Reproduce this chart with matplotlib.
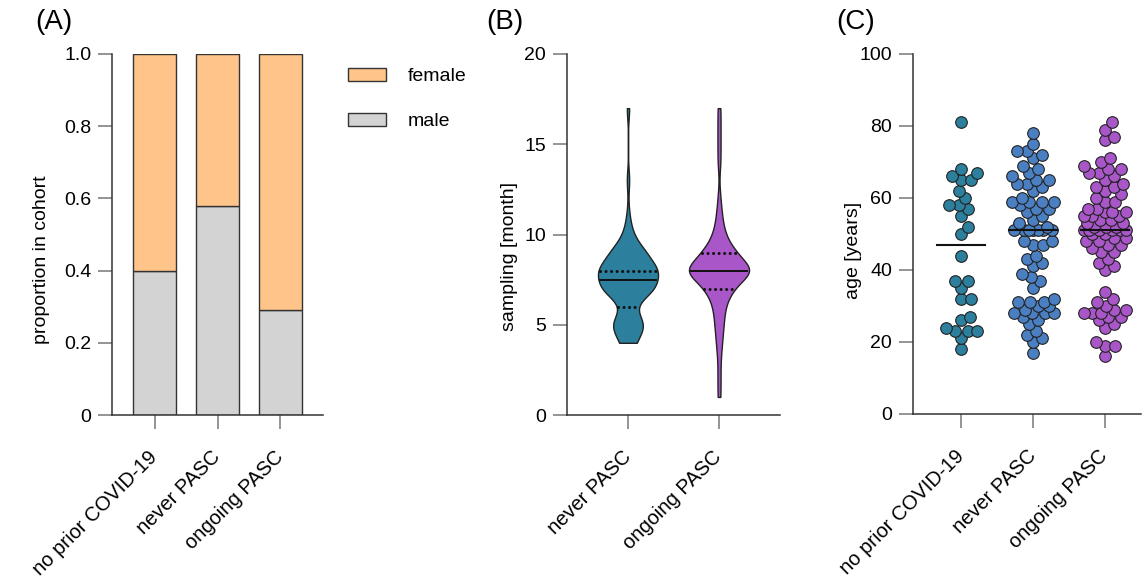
import numpy as np
import matplotlib
matplotlib.use('Agg')
import matplotlib.pyplot as plt

plt.rcParams['font.family'] = ['Liberation Sans', 'DejaVu Sans']

# (A) sex proportions per cohort
groups_a = ['no prior COVID-19', 'never PASC', 'ongoing PASC']
male_prop = [0.40, 0.58, 0.29]
female_prop = [1 - m for m in male_prop]

# (B) sampling time in months (value, how many)
groups_b = ['never PASC', 'ongoing PASC']
never_months = [4, 5, 6, 7, 8, 9, 10, 11, 13, 17]
never_counts = [5, 11, 3, 17, 19, 11, 3, 1, 1, 1]
ongoing_months = [1, 2, 3, 4, 5, 6, 7, 8, 9, 10, 11, 12, 14, 15, 16, 17]
ongoing_counts = [1, 1, 1, 2, 3, 4, 9, 24, 11, 4, 2, 1, 1, 1, 1, 1]

# (C) age per cohort
age_no_prior = [81, 68, 67, 66, 65, 65, 62, 60, 58, 58, 57, 55, 52, 50, 44, 37, 37,
                35, 32, 32, 27, 26, 24, 23, 23, 23, 21, 18]
age_never = [78, 75, 73, 73, 72, 71, 69, 68, 67, 66, 65, 65, 64, 64, 63, 62, 60, 59,
             59, 59, 59, 58, 57, 57, 56, 55, 54, 53, 52, 51, 51, 51, 51, 51, 51, 51,
             48, 48, 47, 47, 44, 43, 42, 41, 39, 38, 37, 35, 32, 31, 31, 31, 30, 30,
             29, 28, 28, 28, 28, 27, 26, 25, 23, 22, 21, 20, 17]
age_ongoing = [81, 79, 77, 76, 71, 70, 69, 68, 68, 67, 67, 66, 65, 64, 63, 63, 62, 61,
               60, 59, 59, 57, 57, 56, 56, 56, 55, 55, 55, 54, 54, 53, 53, 52, 52, 52,
               51, 51, 51, 51, 51, 51, 50, 50, 49, 49, 48, 48, 47, 47, 46, 45, 45, 43,
               42, 41, 40, 34, 32, 31, 30, 29, 29, 28, 28, 28, 27, 27, 26, 25, 24, 20,
               19, 19, 16]

c_female = '#FFC48A'
c_male = '#D3D3D3'
c_teal = '#2C7F9D'
c_blue = '#4A7FC2'
c_purple = '#A856C8'
edge = '#222222'

W, H = 1144, 585
fig = plt.figure(figsize=(W / 100, H / 100), dpi=100)


def add_ax(left, right, top, bottom):
    return fig.add_axes([left / W, 1 - bottom / H, (right - left) / W, (bottom - top) / H])


def style(ax):
    for s in ['top', 'right']:
        ax.spines[s].set_visible(False)
    for s in ['left', 'bottom']:
        ax.spines[s].set_color('#333333')
        ax.spines[s].set_linewidth(1.1)
    ax.tick_params(axis='both', direction='out', length=10, width=1.1, color='#777777',
                   labelsize=14)
    ax.tick_params(axis='y', pad=5)
    ax.tick_params(axis='x', pad=18, labelsize=14.5)


def cat_labels(ax, labels):
    ax.set_xticks(range(1, len(labels) + 1))
    ax.set_xticklabels(labels, rotation=45, ha='right', va='center', rotation_mode='anchor')


# ---- (A)
axA = add_ax(112, 323, 54, 415)
xa = np.arange(1, 4)
bm = axA.bar(xa, male_prop, width=0.68, color=c_male, edgecolor='#333333', linewidth=1)
bf = axA.bar(xa, female_prop, bottom=male_prop, width=0.68, color=c_female,
             edgecolor='#333333', linewidth=1)
axA.set_xlim(0.325, 3.675)
axA.set_ylim(0, 1)
axA.set_yticks([0, 0.2, 0.4, 0.6, 0.8, 1.0])
axA.set_yticklabels(['0', '0.2', '0.4', '0.6', '0.8', '1.0'])
axA.set_ylabel('proportion in cohort', fontsize=14)
axA.yaxis.set_label_coords(-0.294, 0.43)
style(axA)
cat_labels(axA, groups_a)
axA.legend([bf, bm], ['female', 'male'], loc='upper left', frameon=False,
           bbox_to_anchor=(348 / W, 1 - 68 / H), bbox_transform=fig.transFigure,
           borderpad=0, borderaxespad=0, handlelength=1.95, handleheight=0.62,
           handletextpad=1.1, labelspacing=1.45, fontsize=14)

# ---- (B)
axB = add_ax(567, 780, 54, 415)
samp_never = np.repeat(never_months, never_counts)
samp_ongoing = np.repeat(ongoing_months, ongoing_counts)
datasets = [samp_never, samp_ongoing]
vcolors = [c_teal, c_purple]
dots = (0, (0.01, 1.8))
for i, d in enumerate(datasets):
    pos = i + 1
    parts = axB.violinplot([d], positions=[pos], widths=0.66, showextrema=False,
                           points=400, bw_method=0.6 / np.std(d, ddof=1))
    body = parts['bodies'][0]
    body.set_facecolor(vcolors[i])
    body.set_edgecolor(edge)
    body.set_linewidth(1)
    body.set_alpha(1)
    verts = body.get_paths()[0].vertices
    right = verts[verts[:, 0] > pos]
    order = np.argsort(right[:, 1])
    q1, med, q3 = np.percentile(d, [25, 50, 75], method='weibull')
    for q, ls, lw in [(q1, dots, 2.2), (med, '-', 1.4), (q3, dots, 2.2)]:
        hw = np.interp(q, right[order, 1], right[order, 0] - pos) - 0.02
        axB.plot([pos - hw, pos + hw], [q, q], color='#111111', lw=lw, ls=ls,
                 dash_capstyle='round', zorder=3)
axB.set_xlim(0.33, 2.67)
axB.set_ylim(0, 20)
axB.set_yticks([0, 5, 10, 15, 20])
axB.set_ylabel('sampling [month]', fontsize=14)
axB.yaxis.set_label_coords(-0.23, 0.44)
style(axB)
cat_labels(axB, groups_b)

# ---- (C)
axC = add_ax(913, 1141, 54, 414)
px_x, px_y = 72.0, 3.6   # pixels per x unit / per year


def swarm(vals, min_d=9.5, max_off=21):
    steps = np.arange(0.5, max_off + 0.01, 0.5)
    cand = np.concatenate([[0.0], np.ravel(np.column_stack([steps, -steps]))])
    vals = np.sort(np.asarray(vals, float))
    xs, ys = [], []
    for v in vals:
        y = v * px_y
        if xs:
            ax_ = np.array(xs)
            ay_ = np.array(ys)
            dist = np.array([np.min(np.hypot(c - ax_, y - ay_)) for c in cand])
            ok = np.nonzero(dist >= min_d)[0]
            c = cand[ok[0]] if len(ok) else cand[np.argmax(dist)]
        else:
            c = 0.0
        xs.append(c)
        ys.append(y)
    return np.array(xs) / px_x, vals


ages = [age_no_prior, age_never, age_ongoing]
scol = [c_teal, c_blue, c_purple]
for i, a in enumerate(ages):
    offs, vals = swarm(a)
    axC.scatter(i + 1 + offs, vals, s=70, color=scol[i], edgecolor=edge, linewidth=0.8,
                zorder=2, clip_on=False)
    m = np.median(a)
    axC.plot([i + 1 - 0.33, i + 1 + 0.33], [m, m], color='#111111', lw=1.5, zorder=4)
axC.set_xlim(0.33, 3.5)
axC.set_ylim(0, 100)
axC.set_yticks([0, 20, 40, 60, 80, 100])
axC.set_ylabel('age [years]', fontsize=14)
axC.yaxis.set_label_coords(-0.224, 0.455)
style(axC)
cat_labels(axC, groups_a)

for x, t in [(35, '(A)'), (486, '(B)'), (836, '(C)')]:
    fig.text(x / W, 1 - 22 / H, t, fontsize=20, ha='left', va='center')

fig.savefig('out.png', dpi=100)
